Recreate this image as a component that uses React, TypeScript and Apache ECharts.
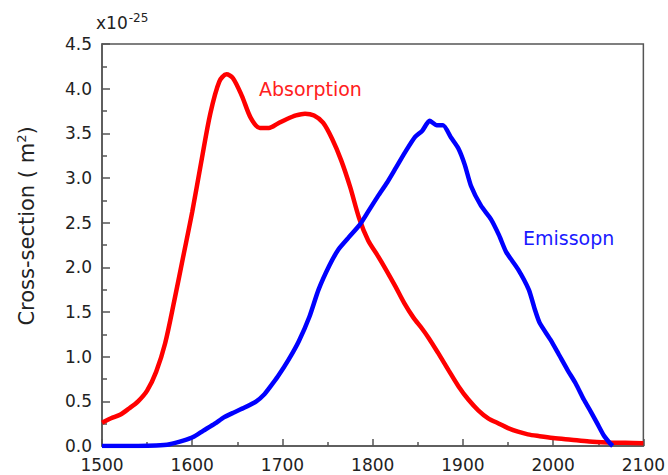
import React, { useEffect, useRef } from "react";
import * as echarts from "echarts";

const absX = [1500, 1510, 1520, 1530, 1540, 1550, 1560, 1570, 1580, 1590, 1600, 1610, 1620, 1630, 1638, 1645, 1655, 1665, 1675, 1685, 1695, 1705, 1715, 1725, 1735, 1745, 1755, 1765, 1775, 1785, 1795, 1805, 1815, 1825, 1835, 1845, 1855, 1862, 1872, 1884, 1895, 1906, 1917, 1928, 1940, 1950, 1961, 1972, 1985, 2000, 2020, 2040, 2060, 2080, 2100];
const absY = [0.26, 0.31, 0.35, 0.42, 0.5, 0.62, 0.83, 1.15, 1.62, 2.12, 2.62, 3.18, 3.72, 4.08, 4.16, 4.12, 3.92, 3.67, 3.56, 3.56, 3.61, 3.66, 3.7, 3.72, 3.7, 3.62, 3.44, 3.2, 2.9, 2.55, 2.3, 2.14, 1.97, 1.79, 1.6, 1.44, 1.31, 1.21, 1.05, 0.85, 0.67, 0.52, 0.4, 0.31, 0.25, 0.2, 0.16, 0.13, 0.11, 0.09, 0.07, 0.05, 0.04, 0.035, 0.03];

const emiX = [1500, 1540, 1560, 1575, 1590, 1601, 1612, 1625, 1635, 1645, 1658, 1671, 1680, 1687, 1695, 1707, 1718, 1730, 1740, 1752, 1762, 1773, 1786, 1796, 1806, 1816, 1826, 1836, 1847, 1855, 1863, 1871, 1878, 1887, 1895, 1902, 1909, 1920, 1931, 1940, 1948, 1961, 1973, 1980, 1985, 1997, 2006, 2016, 2025, 2034, 2042, 2049, 2056, 2063, 2066];
const emiY = [0, 0, 0.005, 0.02, 0.06, 0.1, 0.17, 0.25, 0.32, 0.37, 0.43, 0.5, 0.58, 0.67, 0.78, 0.97, 1.17, 1.45, 1.75, 2.02, 2.2, 2.33, 2.48, 2.64, 2.8, 2.95, 3.12, 3.29, 3.46, 3.53, 3.64, 3.59, 3.59, 3.45, 3.33, 3.15, 2.91, 2.69, 2.54, 2.36, 2.17, 1.98, 1.75, 1.52, 1.38, 1.19, 1.03, 0.85, 0.7, 0.52, 0.38, 0.25, 0.12, 0.03, 0];

const seriesNames = ["Absorption", "Emissopn"];
const xTicks = { min: 1500, max: 2100, interval: 100 };
const yTicks = { min: 0, max: 4.5, interval: 0.5 };

const FONT = "DejaVu Sans, sans-serif";

export default function App() {
  const ref = useRef<HTMLDivElement>(null);
  useEffect(() => {
    if (!ref.current) return;
    const chart = echarts.init(ref.current, undefined, { renderer: "svg" });
    const axisColor = "#555";
    chart.setOption({
      animation: false,
      backgroundColor: "#ffffff",
      grid: {
        left: 102,
        right: 22,
        top: 44,
        bottom: 29,
        show: true,
        borderColor: axisColor,
        borderWidth: 1.5,
        backgroundColor: "transparent",
      },
      xAxis: {
        type: "value",
        min: xTicks.min,
        max: xTicks.max,
        interval: xTicks.interval,
        axisLine: { show: true, lineStyle: { color: axisColor, width: 1.5 } },
        axisTick: { show: true, inside: true, length: 7, lineStyle: { color: axisColor, width: 1.5 } },
        minorTick: { show: true, splitNumber: 2, length: 4, lineStyle: { color: axisColor, width: 1.5 } },
        splitLine: { show: false },
        axisLabel: { color: "#222", fontSize: 17, fontFamily: FONT, margin: 10, formatter: (v: number) => String(v) },
      },
      yAxis: {
        type: "value",
        min: yTicks.min,
        max: yTicks.max,
        interval: yTicks.interval,
        axisLine: { show: true, lineStyle: { color: axisColor, width: 1.5 } },
        axisTick: { show: true, inside: true, length: 8, lineStyle: { color: axisColor, width: 1.5 } },
        minorTick: { show: true, splitNumber: 2, length: 5, lineStyle: { color: axisColor, width: 1.5 } },
        splitLine: { show: false },
        axisLabel: {
          color: "#222",
          fontSize: 17,
          fontFamily: FONT,
          margin: 10,
          formatter: (v: number) => v.toFixed(1),
        },
      },
      graphic: [
        {
          type: "text",
          x: 27,
          y: 226,
          rotation: Math.PI / 2,
          style: {
            text: "Cross-section ( m{sup|2})",
            fill: "#222",
            font: `21px ${FONT}`,
            align: "center",
            verticalAlign: "middle",
            rich: {
              sup: { fontSize: 13, fontFamily: FONT, fill: "#222", verticalAlign: "bottom", padding: [0, 0, 11, 0] },
            },
          },
        },
        {
          type: "text",
          left: 96,
          top: 12,
          style: {
            text: "x10{sup|-25}",
            fill: "#222",
            font: `17px ${FONT}`,
            rich: {
              sup: { fontSize: 12, fontFamily: FONT, fill: "#222", verticalAlign: "top", padding: [0, 0, 10, 1] },
            },
          },
        },
        {
          type: "text",
          left: 259,
          top: 79,
          style: { text: seriesNames[0], fill: "#ff2020", font: `19px ${FONT}` },
        },
        {
          type: "text",
          left: 523,
          top: 228,
          style: { text: seriesNames[1], fill: "#1a1aff", font: `19px ${FONT}` },
        },
      ],
      series: [
        {
          name: seriesNames[0],
          type: "line",
          data: absX.map((x, i) => [x, absY[i]]),
          showSymbol: false,
          smooth: 0.3,
          lineStyle: { color: "#ff0000", width: 4.5 },
        },
        {
          name: seriesNames[1],
          type: "line",
          data: emiX.map((x, i) => [x, emiY[i]]),
          showSymbol: false,
          smooth: 0.2,
          lineStyle: { color: "#0000ff", width: 4.5 },
        },
      ],
    });
    return () => chart.dispose();
  }, []);
  return <div ref={ref} style={{ position: "fixed", left: 0, top: 0, width: 668, height: 475 }} />;
}
